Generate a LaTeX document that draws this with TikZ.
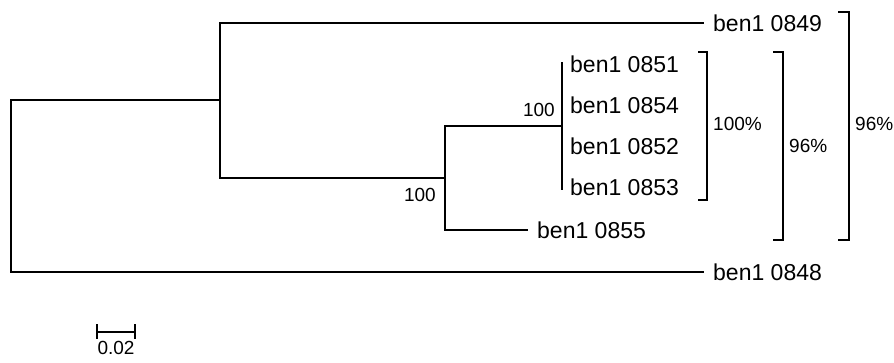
\documentclass[tikz,border=0pt]{standalone}
\usepackage{fontspec}
\setmainfont{Liberation Sans}
\begin{document}
\begin{tikzpicture}[x=1pt,y=-1pt,
  branch/.style={line width=1.8pt, line cap=rect},
  bracketline/.style={line width=1.8pt},
  taxon/.style={anchor=west, inner sep=0pt, font=\fontsize{23}{25}\selectfont},
  boot/.style={inner sep=0pt, font=\fontsize{19}{21}\selectfont},
  pct/.style={anchor=west, inner sep=0pt, font=\fontsize{19}{21}\selectfont}]
\useasboundingbox (0,0) rectangle (894,363);
% internal nodes
\coordinate (R) at (11,186);
\coordinate (A) at (220,100);
\coordinate (B) at (445,178);
\coordinate (C) at (562,126);
% leaf labels
\node[taxon] (t849) at (713,23) {ben1 0849};
\node[taxon] (t851) at (570,64) {ben1 0851};
\node[taxon] (t854) at (570,105) {ben1 0854};
\node[taxon] (t852) at (570,146) {ben1 0852};
\node[taxon] (t853) at (570,187) {ben1 0853};
\node[taxon] (t855) at (537,230) {ben1 0855};
\node[taxon] (t848) at (713,272) {ben1 0848};
% leaf ends
\coordinate (e849) at (703,23);
\coordinate (e855) at (527,230);
\coordinate (e848) at (703,272);
% branches
\draw[branch] (R) |- (A);
\draw[branch] (R) |- (e848);
\draw[branch] (A) |- (e849);
\draw[branch] (A) |- (B);
\draw[branch] (B) |- (C);
\draw[branch] (B) |- (e855);
\draw[branch] (C) -- (C |- 0,63);
\draw[branch] (C) -- (C |- 0,189);
% bootstrap values
\node[boot, anchor=south east] (b1) at (555,117) {100};
\node[boot, anchor=north east] (b2) at (436,188) {100};
% brackets
\draw[bracketline] (698,52) -- (707,52) -- (707,200) -- (698,200);
\draw[bracketline] (773,52) -- (783,52) -- (783,240) -- (773,240);
\draw[bracketline] (838,12) -- (849,12) -- (849,240) -- (838,240);
\node[pct] (p1) at (713,124) {100\%};
\node[pct] (p2) at (789,146) {96\%};
\node[pct] (p3) at (855,124) {96\%};
% scale bar
\coordinate (s1) at (97,332);
\coordinate (s2) at (135,332);
\draw[line width=1.8pt] (s1) -- (s2);
\draw[line width=1.4pt] (97,324) -- (97,339);
\draw[line width=1.4pt] (135,324) -- (135,339);
\node[boot, anchor=north] (sl) at (116,341) {0.02};
\end{tikzpicture}
\end{document}
